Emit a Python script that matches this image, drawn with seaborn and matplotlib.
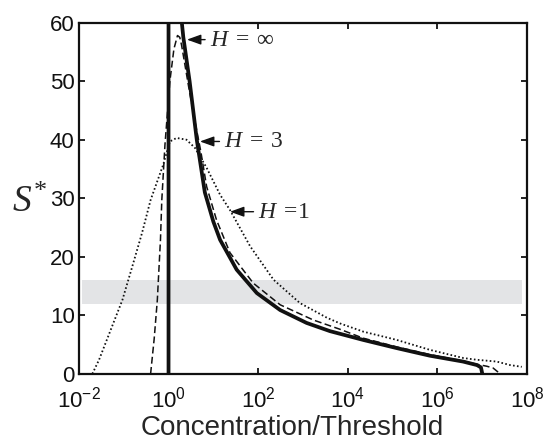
import numpy as np
import pandas as pd
import matplotlib
matplotlib.use("Agg")
import matplotlib.pyplot as plt
import seaborn as sns

# ---------------------------------------------
# DATA  (x given as log10 of concentration/threshold)
# ---------------------------------------------
h_inf_logx = [0.0, 0.0, 0.27, 0.33, 0.47, 0.63, 0.81, 1.0, 1.15, 1.52, 1.97,
              2.49, 3.08, 3.6, 4.34, 5.09, 5.83, 6.57, 6.88, 6.97, 7.0]
h_inf_s = [0.0, 62.0, 62.0, 57.5, 50.0, 40.0, 31.0, 26.0, 22.9, 17.8, 13.8,
           10.9, 8.7, 7.3, 5.8, 4.4, 3.1, 2.1, 1.5, 1.1, 0.0]

h3_logx = [-0.40, -0.32, -0.25, -0.18, -0.15, -0.08, 0.03, 0.12, 0.20, 0.25,
           0.29, 0.45, 0.59, 0.72, 0.85, 1.07, 1.37, 1.89, 2.49, 3.23, 3.83,
           4.34, 5.09, 5.83, 6.57, 6.9, 7.1, 7.24, 7.4]
h3_s = [0.0, 6.0, 12.6, 22.9, 29.7, 39.1, 50.0, 55.5, 57.8, 57.5,
        56.2, 49.0, 43.1, 38.0, 32.0, 26.3, 20.7, 15.5, 11.8, 9.2, 7.6,
        6.1, 4.6, 3.3, 2.2, 1.6, 1.3, 1.0, 0.0]

h1_logx = [-1.70, -1.55, -1.26, -1.03, -0.81, -0.59, -0.40, -0.12, 0.03, 0.18,
           0.40, 0.59, 0.85, 1.15, 1.37, 1.82, 2.34, 2.93, 3.53, 3.83, 4.35,
           5.09, 5.83, 6.58, 6.88, 7.32, 7.62, 7.88]
h1_s = [0.0, 2.4, 8.1, 12.6, 18.3, 24.1, 29.7, 35.7, 39.7, 40.3,
        40.0, 38.6, 35.2, 30.6, 28.0, 21.8, 16.1, 12.1, 9.6, 8.6, 7.2,
        5.8, 4.1, 2.7, 2.4, 2.1, 1.5, 1.2]

band_logx = [-1.92, 7.89]
band_s = [12.0, 16.0]

labels = ["$H\\;=\\;\\infty$", "$H\\;=\\;3$", "$H\\;=\\!1$"]
label_xy = [(0.41, 57.1), (0.70, 39.7), (1.37, 27.7)]      # arrow heads
label_text = [(0.92, 57.1), (1.24, 39.7), (2.00, 27.7)]    # text starts

xtick_exp = [-2, 0, 2, 4, 6, 8]
ytick_vals = [0, 10, 20, 30, 40, 50, 60]

# ---------------------------------------------
# STYLE
# ---------------------------------------------
sns.set_style("ticks")
plt.rcParams["font.family"] = ["Liberation Sans", "DejaVu Sans"]
plt.rcParams["mathtext.fontset"] = "custom"
plt.rcParams["mathtext.rm"] = "Liberation Serif"
plt.rcParams["mathtext.it"] = "Liberation Serif:italic"
plt.rcParams["mathtext.sf"] = "Liberation Sans"

df = pd.concat([
    pd.DataFrame({"x": np.power(10.0, h_inf_logx), "s": h_inf_s, "H": "inf"}),
    pd.DataFrame({"x": np.power(10.0, h3_logx), "s": h3_s, "H": "3"}),
    pd.DataFrame({"x": np.power(10.0, h1_logx), "s": h1_s, "H": "1"}),
], ignore_index=True)

fig = plt.figure(figsize=(5.44, 4.44), dpi=100)
ax = fig.add_axes([0.145, 0.158, 0.824, 0.791])

# grey band
ax.fill_between(np.power(10.0, band_logx), band_s[0], band_s[1],
                color="#e3e4e6", lw=0, zorder=0)

styles = {"inf": dict(lw=2.7, ls="-"),
          "3": dict(lw=1.1, ls=(0, (4.5, 2.2))),
          "1": dict(lw=1.3, ls=(0, (0.9, 1.3)))}
for key in ["1", "3", "inf"]:
    sns.lineplot(data=df[df["H"] == key], x="x", y="s", ax=ax,
                 estimator=None, sort=False, color="#111111",
                 solid_capstyle="butt", **styles[key])

ax.set_xscale("log")
ax.set_xlim(1e-2, 1e8)
ax.set_ylim(0, 60)
ax.set_xticks([10.0 ** e for e in xtick_exp])
ax.set_xticklabels(["$\\mathsf{10^{%d}}$" % e for e in xtick_exp])
ax.minorticks_off()
ax.set_yticks(ytick_vals)
ax.set_yticklabels([str(v) for v in ytick_vals])

for sp in ax.spines.values():
    sp.set_visible(True)
    sp.set_linewidth(1.6)
    sp.set_color("#111111")
ax.tick_params(direction="in", length=4, width=1.3, top=True, right=True,
               labelsize=16, colors="#111111", pad=3)
ax.tick_params(axis="x", pad=9)

ax.set_xlabel("Concentration/Threshold", fontsize=20, va="center")
ax.xaxis.set_label_coords(0.475, -0.155)
ax.set_ylabel("$S^{*}$", fontsize=27, rotation=0, va="center")
ax.yaxis.set_label_coords(-0.11, 0.49)

for lab, xy, xt in zip(labels, label_xy, label_text):
    ax.annotate(lab, xy=(10 ** xy[0], xy[1]), xytext=(10 ** xt[0], xt[1]),
                ha="left", va="center", fontsize=17,
                arrowprops=dict(arrowstyle="-|>,head_length=0.5,head_width=0.18",
                                color="#111111", lw=1.0, shrinkA=1, shrinkB=0))

fig.savefig("out.png", dpi=100)
